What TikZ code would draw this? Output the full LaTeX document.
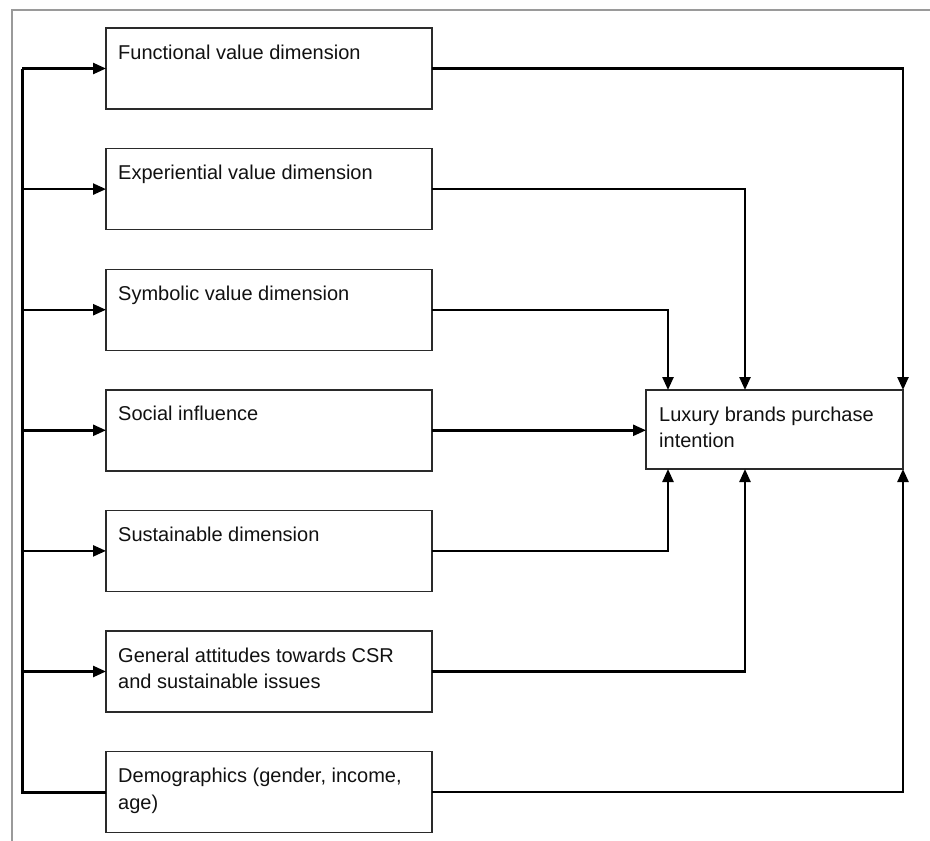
\documentclass[tikz,border=0pt]{standalone}
\usepackage{fontspec}
\setmainfont{Liberation Sans}
\usetikzlibrary{arrows.meta}
\definecolor{boxgray}{HTML}{2A2A2A}
\definecolor{framegray}{HTML}{9A9A9A}
\definecolor{txt}{HTML}{111111}
\begin{document}
\begin{tikzpicture}[x=1pt,y=-1pt,
  box/.style={draw=boxgray, line width=1.4pt, minimum width=326pt, minimum height=81pt, anchor=north west, inner sep=0pt, outer sep=0pt},
  tbox/.style={draw=boxgray, line width=1.4pt, minimum width=257pt, minimum height=79pt, anchor=north west, inner sep=0pt, outer sep=0pt},
  lbl/.style={anchor=base west, inner sep=0pt, text=txt, font=\fontsize{20}{26}\selectfont},
  conn/.style={line width=2.4pt, draw=black},
  bus/.style={line width=3pt, draw=black},
  arr/.style={conn, -{Triangle[length=13pt,width=11pt]}},
  frameline/.style={draw=framegray, line width=1.6pt}]
\useasboundingbox (0,0) rectangle (930,841);
% frame
\draw[frameline] (12,841) -- (12,10) -- (930,10);
% source boxes
\node[box] (b1) at (106,28) {};
\node[box] (b2) at (106,148.6) {};
\node[box] (b3) at (106,269.2) {};
\node[box] (b4) at (106,389.8) {};
\node[box] (b5) at (106,510.4) {};
\node[box] (b6) at (106,631) {};
\node[box] (b7) at (106,751.6) {};
% target
\node[tbox] (tg) at (646,390) {};
% labels
\node[lbl] (l1) at (118,59) {Functional value dimension};
\node[lbl] (l2) at (118,179.6) {Experiential value dimension};
\node[lbl] (l3) at (118,300.2) {Symbolic value dimension};
\node[lbl] (l4) at (118,420.8) {Social influence};
\node[lbl] (l5) at (118,541.4) {Sustainable dimension};
\node[lbl] (l6a) at (118,662) {General attitudes towards CSR};
\node[lbl] (l6b) at (118,688.5) {and sustainable issues};
\node[lbl] (l7a) at (118,782.6) {Demographics (gender, income,};
\node[lbl] (l7b) at (118,809) {age)};
\node[lbl] (lta) at (659,421) {Luxury brands purchase};
\node[lbl] (ltb) at (659,447.5) {intention};
% helper coordinates
\coordinate (bx) at (22,0);
\coordinate (xa) at (668,0);
\coordinate (xb) at (745,0);
% bus
\draw[bus] (bx |- b1.west) -- (bx |- b7.west) -- (b7.west);
\foreach \b in {b1,b2,b3,b4,b5,b6}{
  \draw[arr] (bx |- \b.west) -- (\b.west);
}
% outputs
\draw[arr] (b1.east) -| (tg.north east);
\draw[arr] (b2.east) -| (xb |- tg.north);
\draw[arr] (b3.east) -| (xa |- tg.north);
\draw[arr] (b4.east) -- (tg.west |- b4.east);
\draw[arr] (b5.east) -| (xa |- tg.south);
\draw[arr] (b6.east) -| (xb |- tg.south);
\draw[arr] (b7.east) -| (tg.south east);
\end{tikzpicture}
\end{document}
